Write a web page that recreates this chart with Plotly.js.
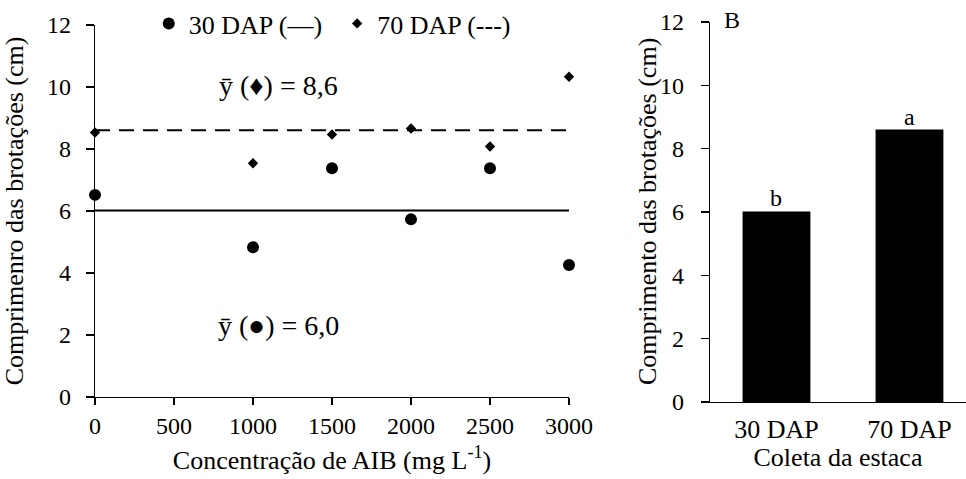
<!DOCTYPE html>
<html>
<head>
<meta charset="utf-8">
<script src="https://cdn.plot.ly/plotly-3.0.1.min.js"></script>
<style>
  html, body { margin: 0; padding: 0; background: #fff; }
  #chart { width: 966px; height: 479px; }
</style>
</head>
<body>
<div id="chart"></div>
<script>
// Shoot length (cm) by IBA concentration, for cuttings collected at 30 and 70 DAP
const concentrations = [0, 1000, 1500, 2000, 2500, 3000];
const dap30 = [6.52, 4.83, 7.38, 5.73, 7.38, 4.26];
const dap70 = [8.53, 7.54, 8.47, 8.66, 8.08, 10.33];
const xTicks = [0, 500, 1000, 1500, 2000, 2500, 3000];

// Collection-time categories for the bar panel
const collections = ['30 DAP', '70 DAP'];
const letters = ['b', 'a'];
const seriesNames = ['30 DAP (—)', '70 DAP (---)'];

const mean = a => a.reduce((s, v) => s + v, 0) / a.length;
const mean30 = mean(dap30);
const mean70 = mean(dap70);
const means = [mean30, mean70];
const fmt = v => v.toFixed(1).replace('.', ',');

const FONT = 'Liberation Serif, Times New Roman, serif';
const xSpan = [concentrations[0], concentrations[concentrations.length - 1]];

const traces = [
  { x: xSpan, y: [mean30, mean30], mode: 'lines', type: 'scatter',
    line: { color: '#000', width: 2 }, showlegend: false, hoverinfo: 'skip',
    xaxis: 'x', yaxis: 'y', cliponaxis: false },
  { x: xSpan, y: [mean70, mean70], mode: 'lines', type: 'scatter',
    line: { color: '#000', width: 2, dash: '15px,9px' }, showlegend: false, hoverinfo: 'skip',
    xaxis: 'x', yaxis: 'y', cliponaxis: false },
  { x: concentrations, y: dap30, mode: 'markers', type: 'scatter', name: seriesNames[0],
    marker: { symbol: 'circle', size: 12, color: '#000' },
    xaxis: 'x', yaxis: 'y', cliponaxis: false, legend: 'legend' },
  { x: concentrations, y: dap70, mode: 'markers', type: 'scatter', name: seriesNames[1],
    marker: { symbol: 'diamond', size: 8, color: '#000' },
    xaxis: 'x', yaxis: 'y', cliponaxis: false, legend: 'legend2' },
  { x: collections, y: means, type: 'bar', width: 0.51,
    marker: { color: '#000', line: { width: 0 } }, showlegend: false,
    xaxis: 'x2', yaxis: 'y2' }
];

const axisBase = {
  showline: true, linecolor: '#000', linewidth: 1.3,
  showgrid: false, zeroline: false,
  tickcolor: '#000', tickwidth: 1.3,
  tickfont: { family: FONT, size: 24, color: '#000' }
};

const legendBase = {
  y: 1.0, xanchor: 'left', yanchor: 'top', bgcolor: 'rgba(0,0,0,0)',
  font: { family: FONT, size: 26, color: '#000' }, borderwidth: 0
};

const layout = {
  width: 966, height: 479,
  margin: { l: 0, r: 0, t: 0, b: 0 },
  paper_bgcolor: '#fff', plot_bgcolor: '#fff',
  font: { family: FONT, color: '#000' },
  showlegend: true,
  legend: Object.assign({ x: 0.154 }, legendBase),
  legend2: Object.assign({ x: 0.349 }, legendBase),
  xaxis: Object.assign({}, axisBase, {
    domain: [95 / 966, 569 / 966], range: xSpan, anchor: 'y',
    tickmode: 'array', tickvals: xTicks, ticktext: xTicks.map(String),
    ticks: 'outside', ticklen: 7, ticklabelstandoff: 0,
    title: { text: 'Concentração de AIB (mg L<sup>-1</sup>)', font: { family: FONT, size: 26, color: '#000' }, standoff: 12 }
  }),
  yaxis: Object.assign({}, axisBase, {
    domain: [82 / 479, 454 / 479], range: [0, 12], anchor: 'x', dtick: 2,
    ticks: 'outside', ticklen: 8, ticklabelstandoff: 10,
    title: { text: 'Comprimenro das brotações (cm)', font: { family: FONT, size: 26, color: '#000' }, standoff: 16 }
  }),
  xaxis2: Object.assign({}, axisBase, {
    domain: [710 / 966, 1], type: 'category', range: [-0.5, 1.425], anchor: 'y2',
    ticks: '', ticklabelstandoff: 3,
    tickfont: { family: FONT, size: 26, color: '#000' },
    title: { text: 'Coleta da estaca', font: { family: FONT, size: 26, color: '#000' }, standoff: 0 }
  }),
  yaxis2: Object.assign({}, axisBase, {
    domain: [77 / 479, 457 / 479], range: [0, 12], anchor: 'x2', dtick: 2,
    ticks: 'outside', ticklen: 8, ticksuffix: '\u2007'
  }),
  annotations: [
    { xref: 'x', yref: 'y', x: 1160, y: 10.05, text: 'ȳ (♦) = ' + fmt(mean70), showarrow: false,
      font: { family: FONT, size: 28, color: '#000' } },
    { xref: 'x', yref: 'y', x: 1160, y: 2.3, text: 'ȳ (●) = ' + fmt(mean30), showarrow: false,
      font: { family: FONT, size: 28, color: '#000' } },
    { xref: 'paper', yref: 'paper', x: 732 / 966, y: 1 - 20 / 479, text: 'B', showarrow: false,
      xanchor: 'center', yanchor: 'middle', font: { family: FONT, size: 24, color: '#000' } },
    // y-axis title of the bar panel, placed beside its tick labels
    { xref: 'paper', yref: 'y2 domain', x: 647 / 966, y: 0.5, text: 'Comprimento das brotações (cm)',
      textangle: -90, showarrow: false, xanchor: 'center', yanchor: 'middle',
      font: { family: FONT, size: 26, color: '#000' } }
  ].concat(collections.map((c, i) => ({
    xref: 'x2', yref: 'y2', x: c, y: means[i], text: letters[i], showarrow: false,
    yanchor: 'bottom', yshift: -2, font: { family: FONT, size: 24, color: '#000' }
  })))
};

Plotly.newPlot('chart', traces, layout, { staticPlot: true, displayModeBar: false });
</script>
</body>
</html>
